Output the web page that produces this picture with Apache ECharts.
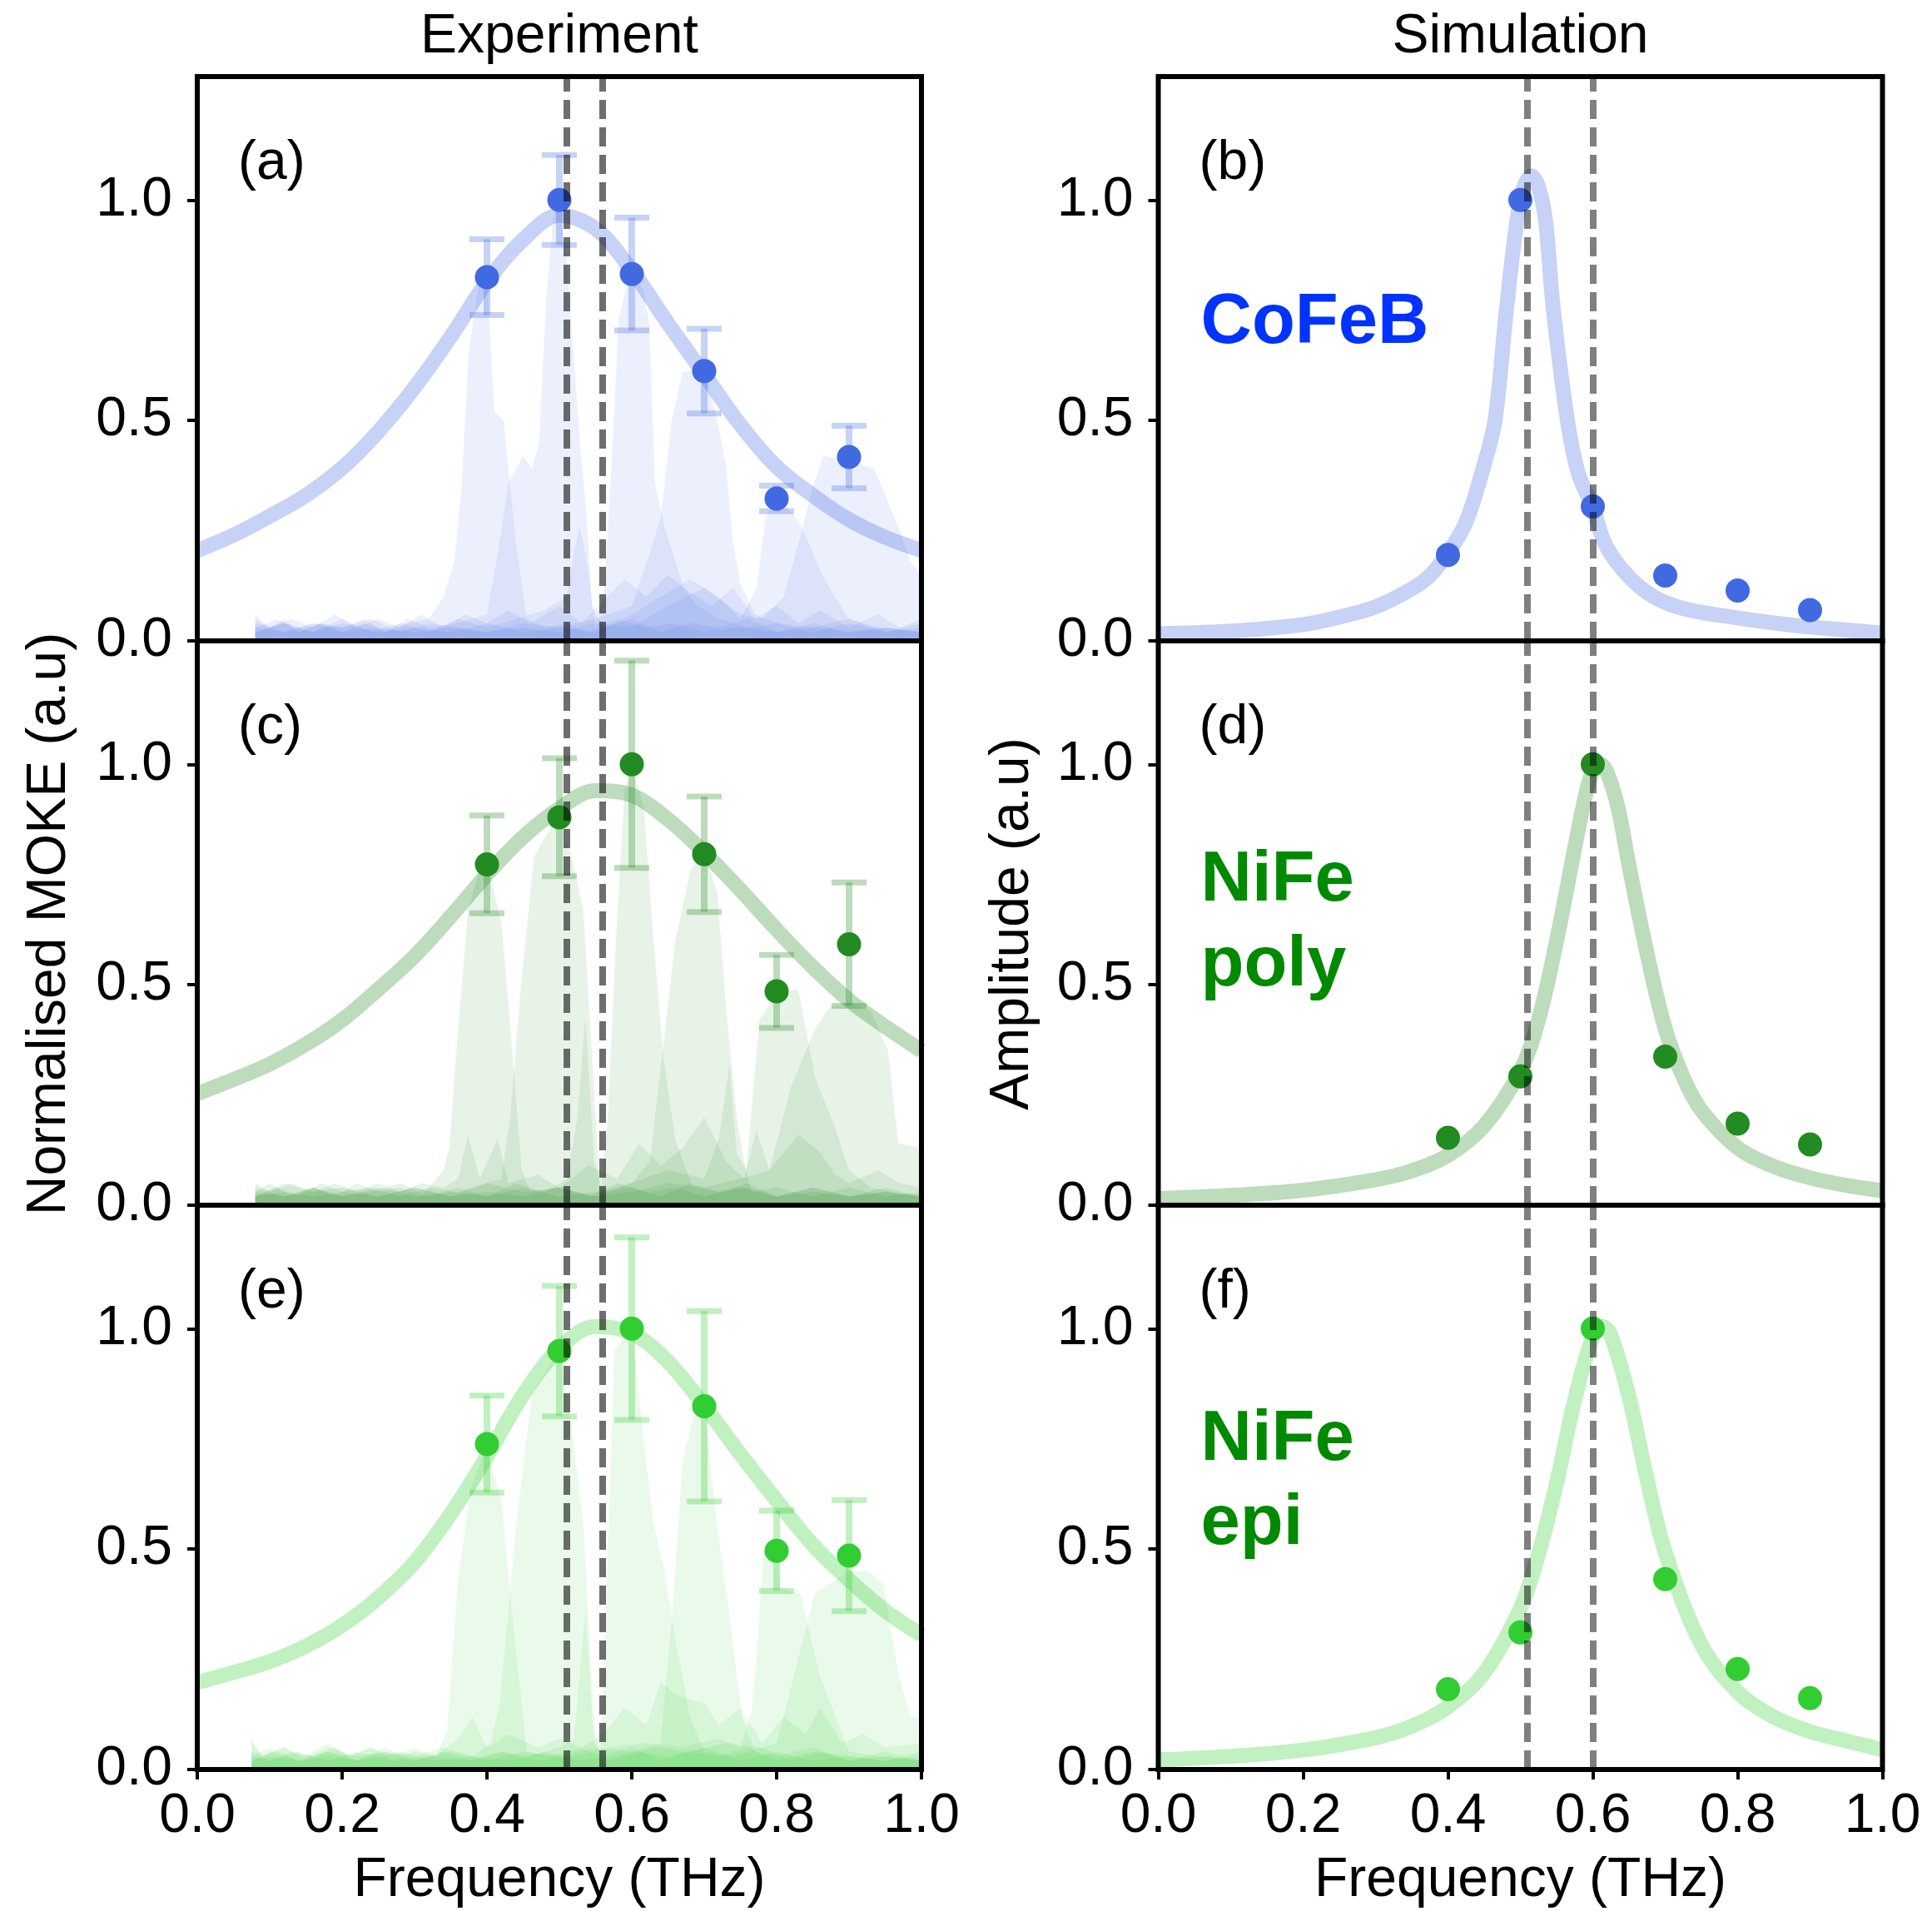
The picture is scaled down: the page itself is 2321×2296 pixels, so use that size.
<!DOCTYPE html>
<html><head><meta charset="utf-8">
<script src="https://cdn.jsdelivr.net/npm/echarts@6/dist/echarts.min.js"></script>
<style>html,body{margin:0;padding:0;background:#fff}#c{width:2321px;height:2296px}</style>
</head><body><div id="c"></div>
<script>
// ---------------- data ----------------
const freqs = [0.4, 0.5, 0.6, 0.7, 0.8, 0.9];
const xTicks = [0, 0.2, 0.4, 0.6, 0.8, 1.0];
const yTicks = [0, 0.5, 1.0];

const expCoFeB    = [0.825, 1.0, 0.832, 0.612, 0.323, 0.417];
const errCoFeB    = [0.086, 0.102, 0.128, 0.096, 0.029, 0.071];
const expNiFePoly = [0.773, 0.880, 1.0, 0.796, 0.485, 0.592];
const errNiFePoly = [0.111, 0.134, 0.235, 0.131, 0.083, 0.140];
const expNiFeEpi  = [0.738, 0.949, 1.0, 0.824, 0.496, 0.485];
const errNiFeEpi  = [0.110, 0.148, 0.207, 0.216, 0.091, 0.126];

const simCoFeB    = [0.195, 1.0, 0.305, 0.148, 0.114, 0.070];
const simNiFePoly = [0.153, 0.292, 1.0, 0.337, 0.185, 0.138];
const simNiFeEpi  = [0.182, 0.311, 1.0, 0.432, 0.228, 0.162];

const fitFreq = [0,0.05,0.1,0.15,0.2,0.25,0.3,0.35,0.4,0.45,0.5,0.55,0.6,0.65,0.7,0.75,0.8,0.85,0.9,0.95,1.0];
const fitCoFeB    = [0.205,0.24,0.283,0.33,0.392,0.475,0.575,0.69,0.815,0.91,0.965,0.935,0.84,0.72,0.605,0.49,0.395,0.33,0.275,0.235,0.205];
const fitNiFePoly = [0.253,0.285,0.32,0.365,0.42,0.49,0.565,0.655,0.75,0.835,0.9,0.94,0.93,0.875,0.80,0.715,0.625,0.54,0.465,0.405,0.35];
const fitNiFeEpi  = [0.197,0.22,0.245,0.28,0.327,0.39,0.47,0.58,0.71,0.85,0.955,1.005,0.99,0.925,0.825,0.715,0.61,0.51,0.43,0.36,0.305];

const simCoFeBFreq = [0,0.1,0.2,0.25,0.3,0.35,0.375,0.4,0.425,0.45,0.465,0.48,0.495,0.505,0.515,0.525,0.535,0.545,0.565,0.58,0.6,0.62,0.665,0.715,0.8,0.88,1.0];
const simCoFeBFit  = [0.016,0.022,0.037,0.054,0.077,0.118,0.148,0.199,0.27,0.40,0.50,0.74,0.95,1.03,1.055,1.03,0.95,0.76,0.50,0.38,0.303,0.21,0.122,0.078,0.052,0.035,0.018];
const simPolyFreq  = [0,0.1,0.2,0.3,0.35,0.4,0.45,0.5,0.525,0.55,0.575,0.59,0.6,0.61,0.62,0.635,0.65,0.675,0.7,0.725,0.75,0.8,0.85,0.9,0.95,1.0];
const simPolyFit   = [0.015,0.022,0.034,0.058,0.078,0.113,0.18,0.305,0.42,0.60,0.81,0.93,0.985,1.0,0.98,0.90,0.77,0.57,0.40,0.29,0.215,0.13,0.088,0.062,0.045,0.033];
const simEpiFreq   = [0,0.1,0.2,0.3,0.35,0.4,0.45,0.5,0.525,0.55,0.575,0.6,0.613,0.625,0.65,0.675,0.7,0.75,0.8,0.85,0.9,0.95,1.0];
const simEpiFit    = [0.022,0.03,0.044,0.072,0.098,0.142,0.219,0.366,0.488,0.65,0.838,0.982,1.005,0.985,0.845,0.658,0.493,0.283,0.176,0.119,0.086,0.065,0.045];

// experimental spectra (frequency, normalised amplitude)
const specA1 = [[0.08,0.06],[0.1,0.03],[0.12,0.05],[0.14,0.02],[0.17,0.04],[0.2,0.03],[0.23,0.05],[0.26,0.02],[0.29,0.04],[0.32,0.05],[0.34,0.1],[0.355,0.18],[0.365,0.35],[0.375,0.66],[0.388,0.8],[0.4,0.83],[0.41,0.52],[0.423,0.5],[0.44,0.22],[0.455,0.05],[0.48,0.03],[0.51,0.04],[0.54,0.02],[0.58,0.05],[0.62,0.03],[0.66,0.04],[0.7,0.02],[0.75,0.03],[0.8,0.02],[0.85,0.03],[0.9,0.02],[0.95,0.03],[1,0.02]];
const specA2 = [[0.08,0.03],[0.11,0.05],[0.14,0.02],[0.17,0.04],[0.2,0.02],[0.23,0.04],[0.26,0.02],[0.29,0.05],[0.32,0.03],[0.36,0.04],[0.4,0.06],[0.415,0.2],[0.43,0.36],[0.45,0.42],[0.462,0.39],[0.472,0.45],[0.482,0.78],[0.492,0.96],[0.5,1.0],[0.51,0.86],[0.52,0.64],[0.53,0.42],[0.537,0.3],[0.545,0.08],[0.56,0.03],[0.6,0.05],[0.64,0.02],[0.68,0.04],[0.72,0.03],[0.76,0.05],[0.8,0.02],[0.85,0.04],[0.9,0.02],[0.95,0.03],[1,0.02]];
const specA3 = [[0.08,0.02],[0.12,0.04],[0.16,0.02],[0.2,0.05],[0.24,0.02],[0.28,0.04],[0.32,0.02],[0.36,0.05],[0.4,0.03],[0.44,0.05],[0.48,0.07],[0.51,0.1],[0.52,0.2],[0.528,0.26],[0.54,0.16],[0.55,0.02],[0.562,0.12],[0.572,0.4],[0.582,0.73],[0.592,0.8],[0.6,0.83],[0.615,0.8],[0.624,0.72],[0.632,0.36],[0.645,0.26],[0.66,0.18],[0.672,0.12],[0.69,0.08],[0.72,0.05],[0.76,0.03],[0.8,0.04],[0.85,0.02],[0.9,0.04],[0.95,0.02],[1,0.03]];
const specA4 = [[0.08,0.04],[0.12,0.02],[0.16,0.04],[0.2,0.03],[0.24,0.05],[0.28,0.02],[0.32,0.04],[0.36,0.03],[0.4,0.02],[0.45,0.04],[0.5,0.03],[0.55,0.05],[0.6,0.08],[0.625,0.2],[0.64,0.28],[0.655,0.5],[0.67,0.61],[0.7,0.62],[0.718,0.5],[0.73,0.4],[0.74,0.22],[0.75,0.13],[0.77,0.06],[0.8,0.04],[0.85,0.03],[0.9,0.05],[0.95,0.02],[1,0.04]];
const specA5 = [[0.08,0.02],[0.12,0.04],[0.16,0.02],[0.2,0.04],[0.25,0.02],[0.3,0.03],[0.35,0.02],[0.4,0.04],[0.45,0.02],[0.5,0.03],[0.55,0.02],[0.6,0.06],[0.64,0.1],[0.68,0.14],[0.72,0.1],[0.75,0.05],[0.772,0.12],[0.785,0.28],[0.8,0.33],[0.815,0.3],[0.83,0.27],[0.845,0.22],[0.86,0.16],[0.88,0.1],[0.9,0.05],[0.94,0.03],[1,0.02]];
const specA6 = [[0.08,0.03],[0.12,0.02],[0.16,0.04],[0.2,0.02],[0.25,0.03],[0.3,0.02],[0.35,0.03],[0.4,0.02],[0.45,0.03],[0.5,0.02],[0.55,0.04],[0.6,0.03],[0.65,0.08],[0.7,0.12],[0.75,0.06],[0.78,0.05],[0.81,0.1],[0.83,0.22],[0.85,0.35],[0.865,0.42],[0.9,0.41],[0.935,0.39],[0.95,0.33],[0.97,0.25],[0.985,0.18],[1,0.15]];
const specA7 = [[0.08,0.05],[0.1,0.03],[0.13,0.05],[0.16,0.03],[0.19,0.06],[0.22,0.03],[0.25,0.05],[0.28,0.03],[0.31,0.06],[0.34,0.03],[0.37,0.06],[0.4,0.04],[0.43,0.07],[0.46,0.04],[0.5,0.08],[0.53,0.04],[0.56,0.09],[0.59,0.14],[0.62,0.1],[0.65,0.15],[0.68,0.11],[0.71,0.08],[0.74,0.12],[0.77,0.05],[0.8,0.08],[0.83,0.04],[0.86,0.07],[0.9,0.03],[0.94,0.06],[0.97,0.03],[1,0.05]];

const specC1 = [[0.08,0.03],[0.1,0.05],[0.13,0.02],[0.16,0.04],[0.19,0.02],[0.22,0.05],[0.25,0.03],[0.28,0.04],[0.31,0.02],[0.34,0.08],[0.348,0.13],[0.36,0.4],[0.374,0.67],[0.388,0.75],[0.4,0.78],[0.42,0.64],[0.435,0.35],[0.448,0.08],[0.46,0.03],[0.5,0.04],[0.54,0.02],[0.58,0.05],[0.62,0.03],[0.66,0.04],[0.7,0.02],[0.75,0.04],[0.8,0.02],[0.85,0.03],[0.9,0.02],[0.95,0.04],[1,0.02]];
const specC2 = [[0.08,0.02],[0.11,0.04],[0.14,0.02],[0.17,0.05],[0.2,0.03],[0.24,0.04],[0.28,0.02],[0.32,0.04],[0.36,0.03],[0.4,0.05],[0.42,0.06],[0.432,0.2],[0.447,0.5],[0.465,0.79],[0.482,0.84],[0.5,0.88],[0.515,0.8],[0.533,0.67],[0.543,0.4],[0.55,0.2],[0.556,0.03],[0.6,0.04],[0.64,0.02],[0.68,0.05],[0.72,0.03],[0.76,0.04],[0.8,0.02],[0.85,0.04],[0.9,0.02],[0.95,0.03],[1,0.02]];
const specC3 = [[0.08,0.04],[0.12,0.02],[0.16,0.04],[0.2,0.02],[0.24,0.03],[0.28,0.05],[0.32,0.02],[0.36,0.04],[0.4,0.02],[0.44,0.05],[0.48,0.03],[0.51,0.06],[0.525,0.2],[0.536,0.43],[0.548,0.1],[0.558,0.04],[0.567,0.2],[0.578,0.6],[0.59,0.94],[0.6,1.0],[0.617,0.9],[0.63,0.6],[0.644,0.33],[0.66,0.15],[0.684,0.04],[0.72,0.03],[0.76,0.05],[0.8,0.02],[0.85,0.04],[0.9,0.02],[0.95,0.03],[1,0.02]];
const specC4 = [[0.08,0.02],[0.12,0.05],[0.16,0.03],[0.2,0.04],[0.25,0.02],[0.3,0.04],[0.35,0.02],[0.4,0.05],[0.45,0.03],[0.5,0.04],[0.55,0.02],[0.6,0.05],[0.625,0.1],[0.644,0.37],[0.66,0.6],[0.681,0.76],[0.7,0.8],[0.718,0.71],[0.73,0.45],[0.745,0.2],[0.755,0.1],[0.765,0.03],[0.8,0.04],[0.85,0.02],[0.9,0.04],[0.95,0.02],[1,0.03]];
const specC5 = [[0.08,0.03],[0.12,0.02],[0.16,0.04],[0.2,0.02],[0.25,0.04],[0.3,0.02],[0.35,0.03],[0.4,0.02],[0.45,0.04],[0.5,0.02],[0.55,0.03],[0.6,0.05],[0.65,0.08],[0.7,0.06],[0.72,0.15],[0.735,0.32],[0.745,0.12],[0.758,0.08],[0.776,0.42],[0.8,0.48],[0.83,0.49],[0.853,0.29],[0.88,0.18],[0.9,0.08],[0.93,0.04],[0.96,0.03],[1,0.02]];
const specC6 = [[0.08,0.02],[0.12,0.03],[0.16,0.02],[0.2,0.03],[0.25,0.02],[0.3,0.04],[0.35,0.02],[0.4,0.03],[0.45,0.02],[0.5,0.04],[0.55,0.02],[0.6,0.03],[0.65,0.05],[0.7,0.04],[0.75,0.06],[0.79,0.08],[0.82,0.27],[0.853,0.4],[0.873,0.45],[0.9,0.46],[0.93,0.44],[0.954,0.35],[0.968,0.14],[1,0.13]];
const specC7 = [[0.08,0.05],[0.1,0.03],[0.13,0.05],[0.16,0.03],[0.19,0.05],[0.22,0.03],[0.25,0.05],[0.28,0.03],[0.31,0.05],[0.34,0.04],[0.36,0.06],[0.374,0.16],[0.39,0.06],[0.415,0.15],[0.43,0.05],[0.47,0.07],[0.5,0.04],[0.54,0.09],[0.58,0.06],[0.61,0.14],[0.64,0.09],[0.67,0.13],[0.7,0.2],[0.73,0.1],[0.755,0.06],[0.772,0.17],[0.79,0.08],[0.81,0.12],[0.83,0.16],[0.86,0.12],[0.88,0.07],[0.9,0.05],[0.94,0.08],[0.97,0.05],[1,0.04]];

const specE1 = [[0.075,0.07],[0.09,0.03],[0.12,0.05],[0.15,0.02],[0.18,0.04],[0.21,0.03],[0.24,0.05],[0.27,0.02],[0.3,0.04],[0.33,0.03],[0.345,0.09],[0.36,0.43],[0.378,0.64],[0.398,0.73],[0.42,0.61],[0.438,0.3],[0.455,0.04],[0.49,0.03],[0.53,0.05],[0.57,0.02],[0.61,0.04],[0.65,0.03],[0.7,0.05],[0.75,0.02],[0.8,0.04],[0.85,0.02],[0.9,0.03],[0.95,0.02],[1,0.03]];
const specE2 = [[0.075,0.04],[0.1,0.02],[0.13,0.04],[0.16,0.03],[0.19,0.05],[0.22,0.02],[0.26,0.04],[0.3,0.03],[0.34,0.05],[0.38,0.03],[0.405,0.06],[0.418,0.15],[0.44,0.55],[0.462,0.85],[0.48,0.9],[0.5,0.95],[0.516,0.79],[0.533,0.56],[0.548,0.1],[0.556,0.03],[0.6,0.05],[0.64,0.02],[0.68,0.04],[0.72,0.03],[0.76,0.05],[0.8,0.02],[0.85,0.04],[0.9,0.03],[0.95,0.02],[1,0.04]];
const specE3 = [[0.075,0.03],[0.1,0.05],[0.14,0.02],[0.18,0.04],[0.22,0.02],[0.26,0.05],[0.3,0.02],[0.34,0.04],[0.38,0.02],[0.42,0.04],[0.46,0.03],[0.5,0.05],[0.52,0.07],[0.536,0.36],[0.548,0.06],[0.557,0.04],[0.565,0.4],[0.576,0.95],[0.59,0.98],[0.6,1.0],[0.614,0.78],[0.63,0.56],[0.644,0.46],[0.66,0.3],[0.68,0.12],[0.7,0.04],[0.74,0.03],[0.78,0.05],[0.82,0.02],[0.86,0.04],[0.9,0.02],[0.95,0.03],[1,0.02]];
const specE4 = [[0.075,0.02],[0.1,0.04],[0.14,0.02],[0.18,0.05],[0.22,0.03],[0.26,0.04],[0.3,0.02],[0.35,0.04],[0.4,0.02],[0.45,0.04],[0.5,0.03],[0.55,0.05],[0.6,0.04],[0.64,0.06],[0.657,0.38],[0.67,0.7],[0.685,0.8],[0.7,0.82],[0.718,0.55],[0.738,0.31],[0.752,0.12],[0.77,0.04],[0.8,0.03],[0.85,0.05],[0.9,0.02],[0.95,0.04],[1,0.02]];
const specE5 = [[0.075,0.03],[0.1,0.02],[0.14,0.04],[0.18,0.02],[0.22,0.04],[0.27,0.02],[0.32,0.03],[0.37,0.02],[0.42,0.04],[0.47,0.02],[0.52,0.03],[0.57,0.05],[0.62,0.06],[0.67,0.05],[0.72,0.07],[0.75,0.05],[0.765,0.13],[0.772,0.25],[0.782,0.5],[0.8,0.5],[0.806,0.41],[0.833,0.4],[0.86,0.21],[0.9,0.04],[0.94,0.03],[1,0.02]];
const specE6 = [[0.075,0.02],[0.1,0.03],[0.14,0.02],[0.18,0.03],[0.23,0.02],[0.28,0.04],[0.33,0.02],[0.38,0.03],[0.43,0.02],[0.48,0.04],[0.53,0.02],[0.58,0.03],[0.63,0.05],[0.68,0.04],[0.73,0.06],[0.78,0.05],[0.8,0.06],[0.853,0.4],[0.9,0.45],[0.927,0.45],[0.947,0.42],[0.968,0.22],[0.985,0.12],[1,0.12]];
const specE7 = [[0.075,0.06],[0.09,0.03],[0.12,0.05],[0.15,0.03],[0.18,0.06],[0.21,0.03],[0.24,0.05],[0.27,0.03],[0.3,0.05],[0.33,0.03],[0.36,0.07],[0.38,0.12],[0.4,0.05],[0.43,0.08],[0.47,0.05],[0.5,0.07],[0.53,0.05],[0.56,0.08],[0.59,0.14],[0.62,0.1],[0.64,0.2],[0.66,0.17],[0.7,0.15],[0.72,0.1],[0.75,0.14],[0.78,0.06],[0.81,0.12],[0.84,0.08],[0.86,0.14],[0.89,0.06],[0.92,0.08],[0.95,0.05],[1,0.06]];

const dashExp = [0.51, 0.56];
const dashSim = [0.51, 0.60];

// ---------------- layout ----------------
const FONT = '"Liberation Sans", Arial, Helvetica, sans-serif';
const colL = [237, 1391.5], W = 870, rowT = [92, 770, 1448], H = 678;
const YMAX = 1.28;
const BLUE = '#4169E1', FG = '#228B22', LG = '#32CD32';

const panels = [
  {row:0,col:0,label:'(a)',color:BLUE,pts:expCoFeB,err:errCoFeB,fx:fitFreq,fy:fitCoFeB,specs:[specA1,specA2,specA3,specA4,specA5,specA6,specA7],dash:dashExp,dashColor:'rgba(0,0,0,0.57)'},
  {row:0,col:1,label:'(b)',color:BLUE,pts:simCoFeB,err:null,fx:simCoFeBFreq,fy:simCoFeBFit,specs:[],dash:dashSim,dashColor:'rgba(0,0,0,0.5)'},
  {row:1,col:0,label:'(c)',color:FG,pts:expNiFePoly,err:errNiFePoly,fx:fitFreq,fy:fitNiFePoly,specs:[specC1,specC2,specC3,specC4,specC5,specC6,specC7],dash:dashExp,dashColor:'rgba(0,0,0,0.57)'},
  {row:1,col:1,label:'(d)',color:FG,pts:simNiFePoly,err:null,fx:simPolyFreq,fy:simPolyFit,specs:[],dash:dashSim,dashColor:'rgba(0,0,0,0.5)'},
  {row:2,col:0,label:'(e)',color:LG,pts:expNiFeEpi,err:errNiFeEpi,fx:fitFreq,fy:fitNiFeEpi,specs:[specE1,specE2,specE3,specE4,specE5,specE6,specE7],dash:dashExp,dashColor:'rgba(0,0,0,0.57)'},
  {row:2,col:1,label:'(f)',color:LG,pts:simNiFeEpi,err:null,fx:simEpiFreq,fy:simEpiFit,specs:[],dash:dashSim,dashColor:'rgba(0,0,0,0.5)'}
];

const grids = [], xAxes = [], yAxes = [], series = [], graphics = [];
const fmt = v => Number(v).toFixed(1);

panels.forEach((p, i) => {
  const left = colL[p.col], top = rowT[p.row];
  const bottom = p.row === 2;
  grids.push({left: left, top: top, width: W, height: H, containLabel: false});
  xAxes.push({
    gridIndex: i, type: 'value', min: 0, max: 1,
    axisLine: {show: false}, splitLine: {show: false},
    axisTick: {show: bottom, length: 12, customValues: xTicks, lineStyle: {width: 4, color: '#000'}},
    axisLabel: {show: bottom, customValues: xTicks, formatter: fmt, fontSize: 66, fontFamily: FONT, color: '#000', margin: 24}
  });
  yAxes.push({
    gridIndex: i, type: 'value', min: 0, max: YMAX,
    axisLine: {show: false}, splitLine: {show: false},
    axisTick: {show: true, length: 12, customValues: yTicks, lineStyle: {width: 4, color: '#000'}},
    axisLabel: {customValues: yTicks, formatter: fmt, fontSize: 66, fontFamily: FONT, color: '#000', margin: 30}
  });

  p.specs.forEach(s => {
    series.push({
      type: 'line', xAxisIndex: i, yAxisIndex: i, data: s, z: 1,
      symbol: 'none', showSymbol: false, smooth: false, silent: true,
      lineStyle: {width: 0, opacity: 0},
      areaStyle: {color: p.color, opacity: 0.1}
    });
  });

  series.push({
    type: 'line', xAxisIndex: i, yAxisIndex: i, z: 2, silent: true,
    data: p.fx.map((x, k) => [x, p.fy[k]]),
    symbol: 'none', showSymbol: false, smooth: 0.35,
    lineStyle: {color: p.color, width: 18, opacity: 0.3},
    markLine: {
      silent: true, symbol: ['none', 'none'], label: {show: false}, z: 6,
      lineStyle: {type: [23, 10], width: 8, color: p.dashColor, opacity: 1},
      emphasis: {disabled: true},
      data: p.dash.map(v => ({xAxis: v}))
    }
  });

  series.push({
    type: 'scatter', xAxisIndex: i, yAxisIndex: i, z: 3, silent: true,
    data: freqs.map((f, k) => [f, p.pts[k]]),
    symbol: 'circle', symbolSize: 29,
    itemStyle: {color: p.color, opacity: 1}
  });

  if (p.err) {
    const col = p.color;
    series.push({
      type: 'custom', xAxisIndex: i, yAxisIndex: i, z: 4, silent: true,
      data: freqs.map((f, k) => [f, p.pts[k] - p.err[k], p.pts[k] + p.err[k]]),
      encode: {x: 0, y: [1, 2]},
      renderItem: (params, api) => {
        const lo = api.coord([api.value(0), api.value(1)]);
        const hi = api.coord([api.value(0), api.value(2)]);
        const cw = 21;
        const stemSt = {stroke: col, lineWidth: 8, opacity: 0.3};
        const capSt = {stroke: col, lineWidth: 7, opacity: 0.3};
        return {type: 'group', children: [
          {type: 'line', shape: {x1: lo[0], y1: lo[1], x2: hi[0], y2: hi[1]}, style: stemSt},
          {type: 'line', shape: {x1: lo[0] - cw, y1: lo[1], x2: lo[0] + cw, y2: lo[1]}, style: capSt},
          {type: 'line', shape: {x1: hi[0] - cw, y1: hi[1], x2: hi[0] + cw, y2: hi[1]}, style: capSt}
        ]};
      }
    });
  }

  // frame
  graphics.push({type: 'rect', z: 100, silent: true,
    shape: {x: left, y: top, width: W, height: H},
    style: {fill: 'none', stroke: '#000', lineWidth: 6}});
  // panel label
  graphics.push({type: 'text', z: 100, silent: true, x: left + 49, y: top + 105,
    style: {text: p.label, font: '66px ' + FONT, fill: '#000', align: 'left', verticalAlign: 'middle'}});
});

function txt(t, x, y, size, opts) {
  opts = opts || {};
  graphics.push({type: 'text', z: 100, silent: true, x: x, y: y, rotation: opts.rot || 0,
    style: {text: t, font: (opts.bold ? 'bold ' : '') + size + 'px ' + FONT, fill: opts.color || '#000',
      align: opts.align || 'center', verticalAlign: 'middle'}});
}
const cx0 = colL[0] + W / 2, cx1 = colL[1] + W / 2;
txt('Experiment', cx0, 45, 66);
txt('Simulation', cx1, 45, 66);
txt('Frequency (THz)', cx0, 2260, 66);
txt('Frequency (THz)', cx1, 2260, 66);
txt('Normalised MOKE (a.u)', 60, 1110, 66, {rot: Math.PI / 2});
txt('Amplitude (a.u)', 1217, 1110, 66, {rot: Math.PI / 2});
txt('CoFeB', colL[1] + 51, 389, 85, {bold: true, color: '#0033ff', align: 'left'});
txt('NiFe', colL[1] + 51, 1059, 85, {bold: true, color: '#008a00', align: 'left'});
txt('poly', colL[1] + 51, 1161, 85, {bold: true, color: '#008a00', align: 'left'});
txt('NiFe', colL[1] + 51, 1731, 85, {bold: true, color: '#008a00', align: 'left'});
txt('epi', colL[1] + 51, 1832, 85, {bold: true, color: '#008a00', align: 'left'});

const chart = echarts.init(document.getElementById('c'), null, {renderer: 'canvas'});
chart.setOption({
  animation: false,
  backgroundColor: '#fff',
  grid: grids, xAxis: xAxes, yAxis: yAxes, series: series,
  graphic: {elements: graphics}
});
</script>
</body></html>
